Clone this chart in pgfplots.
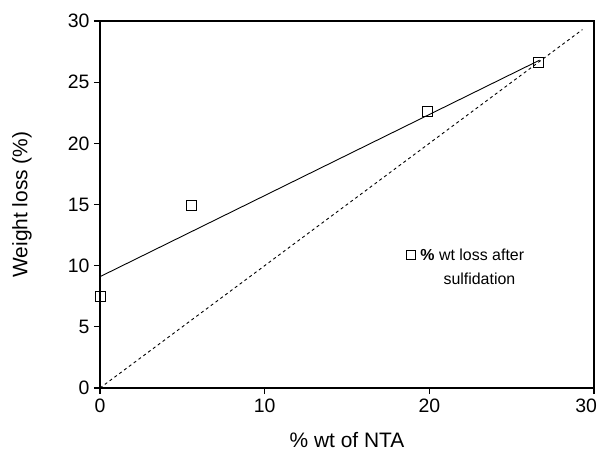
\documentclass[border=0pt]{standalone}
\usepackage{pgfplots}
\pgfplotsset{compat=1.18}
\usepackage{fontspec}
\setmainfont{Liberation Sans}

\begin{document}
\begin{tikzpicture}
\begin{axis}[
  scale only axis,
  width=494bp, height=367bp,
  xmin=0, xmax=30, ymin=0, ymax=30,
  xtick={0,10,20,30},
  xticklabels={0,10,20,{\makebox[0pt][r]{30\hspace{-3bp}}}},
  ytick={0,5,10,15,20,25,30},
  tick align=outside,
  tick pos=left,
  major tick length=6bp,
  axis line style={line width=1.2bp},
  every tick/.style={line width=1.2bp, black},
  /pgf/number format/assume math mode=true,
  ticklabel style={font=\fontsize{19.5}{22}\selectfont},
  yticklabel style={xshift=-1bp},
  xticklabel style={yshift=-1bp},
  label style={font=\fontsize{21}{24}\selectfont},
  xlabel={\% wt of NTA},
  ylabel={Weight loss (\%)},
  xlabel style={at={(axis description cs:0.5,-0.1417)}, anchor=center},
  ylabel style={at={(axis description cs:-0.158,0.5)}, anchor=center},
  clip=false,
]
% y = x reference line
\addplot[black, line width=0.9bp, dash pattern=on 3bp off 3bp] coordinates {(0,0) (29.3,29.3)};
% linear fit
\addplot[black, line width=0.9bp] coordinates {(0,9.1) (26.7,26.8)};
% measured weight loss
\addplot[only marks, mark=square, mark size=5bp, mark options={line width=0.9bp, black}] coordinates {
  (0,7.45) (5.53,14.95) (19.9,22.64) (26.65,26.65)
};
% legend entry
\addplot[only marks, mark=square, mark size=4.5bp, mark options={line width=0.9bp, black}] coordinates {(18.9,10.87)};
\node[anchor=west, font=\fontsize{16}{19}\selectfont, inner sep=0pt] at (axis cs:19.45,10.87) {\textbf{\%} wt loss after};
\node[anchor=west, font=\fontsize{16}{19}\selectfont, inner sep=0pt] at (axis cs:20.85,8.9) {sulfidation};
\end{axis}
\pgfresetboundingbox
\path[use as bounding box] ([xshift=-100bp,yshift=-70bp]current axis.south west) rectangle ([xshift=4bp,yshift=21bp]current axis.north east);
\end{tikzpicture}
\end{document}
